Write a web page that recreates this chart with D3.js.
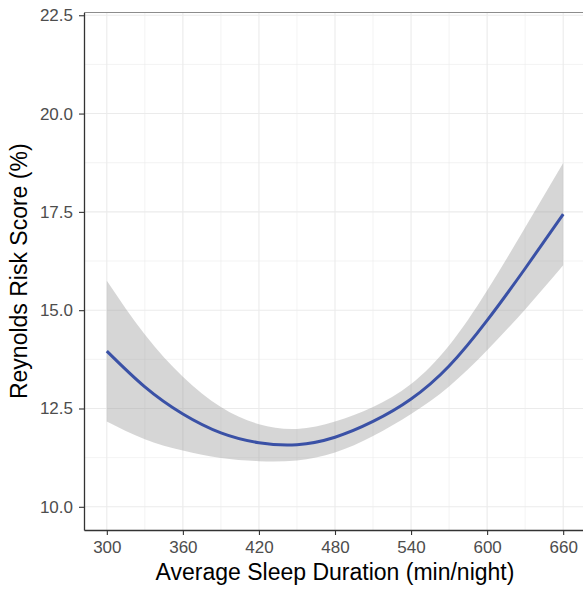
<!DOCTYPE html>
<html>
<head>
<meta charset="utf-8">
<script src="https://cdn.jsdelivr.net/npm/d3@7"></script>
<style>
  body { margin: 0; background: #fff; }
  svg { display: block; font-family: "Liberation Sans", Arial, sans-serif; }
  .tick text { fill: #4d4d4d; font-size: 17px; }
</style>
</head>
<body>
<div id="chart"></div>
<script>
// sleep duration (min/night) where the fitted curve was read
var sleepMinutes = [300, 330, 360, 390, 420, 450, 480, 510, 540, 570, 600, 630, 660];

// fitted Reynolds risk score (%)
var riskFit = [13.96, 13.05, 12.36, 11.88, 11.63, 11.58, 11.77, 12.17, 12.74, 13.58, 14.74, 16.06, 17.44];

// confidence band, upper and lower edge
var riskUpper = [15.75, 14.38, 13.31, 12.54, 12.10, 11.98, 12.17, 12.54, 13.12, 14.10, 15.50, 17.10, 18.74];
var riskLower = [12.17, 11.72, 11.43, 11.24, 11.16, 11.18, 11.38, 11.80, 12.36, 13.06, 13.98, 15.02, 16.14];

// tick labels
var xTicks = [300, 360, 420, 480, 540, 600, 660];
var xMinor = [330, 390, 450, 510, 570, 630];
var yTicks = [10, 12.5, 15, 17.5, 20, 22.5];
var yMinor = [11.25, 13.75, 16.25, 18.75, 21.25];

var width = 583, height = 591;
var panel = {left: 84, top: 12.5, right: 586, bottom: 530};

var svg = d3.select("#chart")
  .append("svg")
  .attr("width", width)
  .attr("height", height);

// scales with ggplot style padding
var x = d3.scaleLinear()
  .domain([282, 678])
  .range([panel.left, panel.right]);

var y = d3.scaleLinear()
  .domain([9.41, 22.57])
  .range([panel.bottom, panel.top]);

// draw a set of vertical or horizontal grid lines
function grid(values, vertical, strokeWidth){
  svg.append("g").selectAll("line")
    .data(values)
    .enter().append("line")
    .attr("x1", function(d){ return vertical ? x(d) : panel.left; })
    .attr("x2", function(d){ return vertical ? x(d) : panel.right; })
    .attr("y1", function(d){ return vertical ? panel.top : y(d); })
    .attr("y2", function(d){ return vertical ? panel.bottom : y(d); })
    .attr("stroke", "#ebebeb")
    .attr("stroke-width", strokeWidth);
}

grid(xMinor, true, 0.6);
grid(yMinor, false, 0.6);
grid(xTicks, true, 1.1);
grid(yTicks, false, 1.1);

// build point table
var points = sleepMinutes.map(function(m, i){
  return {x: m, fit: riskFit[i], hi: riskUpper[i], lo: riskLower[i]};
});

// confidence ribbon
var band = d3.area()
  .curve(d3.curveNatural)
  .x(function(d){ return x(d.x); })
  .y0(function(d){ return y(d.lo); })
  .y1(function(d){ return y(d.hi); });

svg.append("path")
  .datum(points)
  .attr("d", band)
  .attr("fill", "#999999")
  .attr("fill-opacity", 0.4);

// fitted line
var line = d3.line()
  .curve(d3.curveNatural)
  .x(function(d){ return x(d.x); })
  .y(function(d){ return y(d.fit); });

svg.append("path")
  .datum(points)
  .attr("d", line)
  .attr("fill", "none")
  .attr("stroke", "#3a51a6")
  .attr("stroke-width", 3);

// panel top border
svg.append("line")
  .attr("x1", panel.left)
  .attr("x2", panel.right)
  .attr("y1", panel.top)
  .attr("y2", panel.top)
  .attr("stroke", "#8c8c8c")
  .attr("stroke-width", 1.2);

// X axis
svg.append("g")
  .attr("transform", "translate(0," + panel.bottom + ")")
  .call(d3.axisBottom(x)
    .tickValues(xTicks)
    .tickSize(5)
    .tickPadding(6)
    .tickSizeOuter(0));

// Y axis
svg.append("g")
  .attr("transform", "translate(" + panel.left + ",0)")
  .call(d3.axisLeft(y)
    .tickValues(yTicks)
    .tickFormat(d3.format(".1f"))
    .tickSize(5)
    .tickPadding(6)
    .tickSizeOuter(0));

svg.selectAll(".domain")
  .attr("stroke", "#333333")
  .attr("stroke-width", 1.3);
svg.selectAll(".tick line")
  .attr("stroke", "#333333")
  .attr("stroke-width", 1.1);

// axis titles
svg.append("text")
  .attr("x", (panel.left + panel.right) / 2)
  .attr("y", 580)
  .attr("text-anchor", "middle")
  .style("font-size", "23px")
  .style("fill", "#000")
  .text("Average Sleep Duration (min/night)");

svg.append("text")
  .attr("transform", "translate(27," + ((panel.top + panel.bottom) / 2) + ") rotate(-90)")
  .attr("text-anchor", "middle")
  .style("font-size", "23px")
  .style("fill", "#000")
  .text("Reynolds Risk Score (%)");
</script>
</body>
</html>
